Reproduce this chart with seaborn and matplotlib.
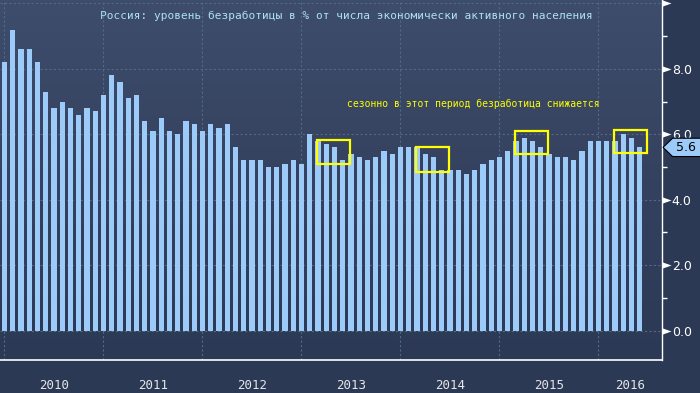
import numpy as np
import pandas as pd
import matplotlib
matplotlib.use("Agg")
import matplotlib.pyplot as plt
import matplotlib.transforms as mtransforms
from matplotlib.patches import Rectangle, Polygon
import seaborn as sns

# monthly unemployment, Dec 2009 .. May 2016 (bars sit at month end)
months = pd.date_range("2009-12-01", periods=78, freq="MS").strftime("%Y-%m").tolist()
rates = [8.2,
         9.2, 8.6, 8.6, 8.2, 7.3, 6.8, 7.0, 6.8, 6.6, 6.8, 6.7, 7.2,
         7.8, 7.6, 7.1, 7.2, 6.4, 6.1, 6.5, 6.1, 6.0, 6.4, 6.3, 6.1,
         6.3, 6.2, 6.3, 5.6, 5.2, 5.2, 5.2, 5.0, 5.0, 5.1, 5.2, 5.1,
         6.0, 5.8, 5.7, 5.6, 5.2, 5.4, 5.3, 5.2, 5.3, 5.5, 5.4, 5.6,
         5.6, 5.6, 5.4, 5.3, 4.9, 4.9, 4.9, 4.8, 4.9, 5.1, 5.2, 5.3,
         5.5, 5.8, 5.9, 5.8, 5.6, 5.4, 5.3, 5.3, 5.2, 5.5, 5.8, 5.8,
         5.8, 5.8, 6.0, 5.9, 5.6]
years = ["2010", "2011", "2012", "2013", "2014", "2015", "2016"]
y_ticks = [0, 2, 4, 6, 8, 10]
y_labels = ["0.0", "2.0", "4.0", "6.0", "8.0", ""]

# seasonal boxes: first month, bottom, top
box_months = ["2013-02", "2014-02", "2015-02", "2016-02"]
box_lo = [5.10, 4.85, 5.39, 5.42]
box_hi = [5.83, 5.61, 6.10, 6.13]

title = "Россия: уровень безработицы в % от числа экономически активного населения"
note = "сезонно в этот период безработица снижается"

df = pd.DataFrame({"month": months, "rate": rates})

sns.set_theme(style="dark")
plt.rcParams["font.family"] = ["DejaVu Sans"]

fig = plt.figure(figsize=(7, 3.93), dpi=100, facecolor="#2c3955")
pos = [0, 33 / 393, 662 / 700, 360 / 393]

# gradient background behind the plot
bg = fig.add_axes(pos, zorder=-1)
grad = np.linspace(0, 1, 256).reshape(-1, 1)
cmap = matplotlib.colors.LinearSegmentedColormap.from_list("bg", ["#3f4d6d", "#34425f", "#2c3955"])
bg.imshow(grad, aspect="auto", cmap=cmap, extent=[0, 1, 0, 1])
bg.set_axis_off()

ax = fig.add_axes(pos)
ax.set_facecolor("none")
sns.barplot(data=df, x="month", y="rate", color="#9ccbfa", saturation=1,
            width=0.62, linewidth=0, ax=ax)

x_right = 79.7
ax.set_xlim(-0.545, x_right)
ax.set_ylim(-0.902, 10.107)
ax.set_xlabel("")
ax.set_ylabel("")

# x axis: year boundaries + quarterly minor ticks
bounds = [i for i, m in enumerate(months) if m.endswith("-12")]
quarters = [i for i in range(0, len(months) + 1, 3) if i % 12 != 0]
ax.set_xticks(bounds)
ax.set_xticklabels([])
ax.set_xticks(quarters, minor=True)
ax.tick_params(axis="x", which="major", direction="out", length=24, width=1.2,
               color="#9aa0b4")
ax.tick_params(axis="x", which="minor", direction="out", length=3.5, width=1,
               color="white")

trans_x = mtransforms.blended_transform_factory(ax.transData, ax.transAxes)
for k, yr in enumerate(years):
    left = bounds[k]
    right = bounds[k + 1] if k + 1 < len(bounds) else x_right
    ax.text((left + right) / 2, -0.07, yr, transform=trans_x, ha="center",
            va="center", color="#e6e6e6", fontsize=9, family="DejaVu Sans Mono")

# y axis on the right
ax.yaxis.tick_right()
ax.set_yticks(y_ticks)
ax.set_yticklabels(y_labels)
ax.set_yticks([1, 3, 5, 7, 9], minor=True)
ax.tick_params(axis="y", which="major", length=0, pad=7, labelsize=9,
               labelcolor="white")
ax.tick_params(axis="y", which="minor", direction="out", length=3.5, width=1,
               color="white")
trans_y = ax.get_yaxis_transform()
tri = [(0, -0.35), (1, 0), (0, 0.35)]
ax.scatter([1.0] * len(y_ticks), y_ticks, marker=tri, s=170, color="white",
           transform=trans_y, clip_on=False, zorder=4, linewidths=0)

# grid
ax.set_axisbelow(True)
ax.grid(True, which="major", color="#4f6a88", linestyle=(0, (2, 2)), linewidth=0.8)

for side in ["top", "left"]:
    ax.spines[side].set_visible(False)
ax.spines["right"].set_color("white")
ax.spines["right"].set_linewidth(1)
ax.spines["bottom"].set_color("white")
ax.spines["bottom"].set_linewidth(1.2)

# title and note
ax.text(0.523, 0.956, title, transform=ax.transAxes, ha="center", va="center",
        color="#aee0f5", fontsize=8, family="DejaVu Sans Mono")
ax.text(56.8, 6.93, note, ha="center", va="center", color="#ffff00",
        fontsize=7, family="DejaVu Sans Mono")

for m, lo, hi in zip(box_months, box_lo, box_hi):
    i = months.index(m)
    ax.add_patch(Rectangle((i - 0.12, lo), 4.04, hi - lo, fill=False,
                           edgecolor="#ffff00", linewidth=1.6, zorder=5))

# last value tag
last = rates[-1]
tag = Polygon([(1.0015, last), (1.016, last + 0.28), (1.07, last + 0.28),
               (1.07, last - 0.28), (1.016, last - 0.28)], closed=True,
              transform=trans_y, clip_on=False, facecolor="#9ccbfa",
              edgecolor="black", linewidth=0.8, zorder=6)
ax.add_patch(tag)
ax.text(1.036, last, f"{last:.1f}", transform=trans_y, ha="center", va="center",
        color="black", fontsize=9, zorder=7, clip_on=False)

fig.savefig("out.png", dpi=100, facecolor=fig.get_facecolor())
